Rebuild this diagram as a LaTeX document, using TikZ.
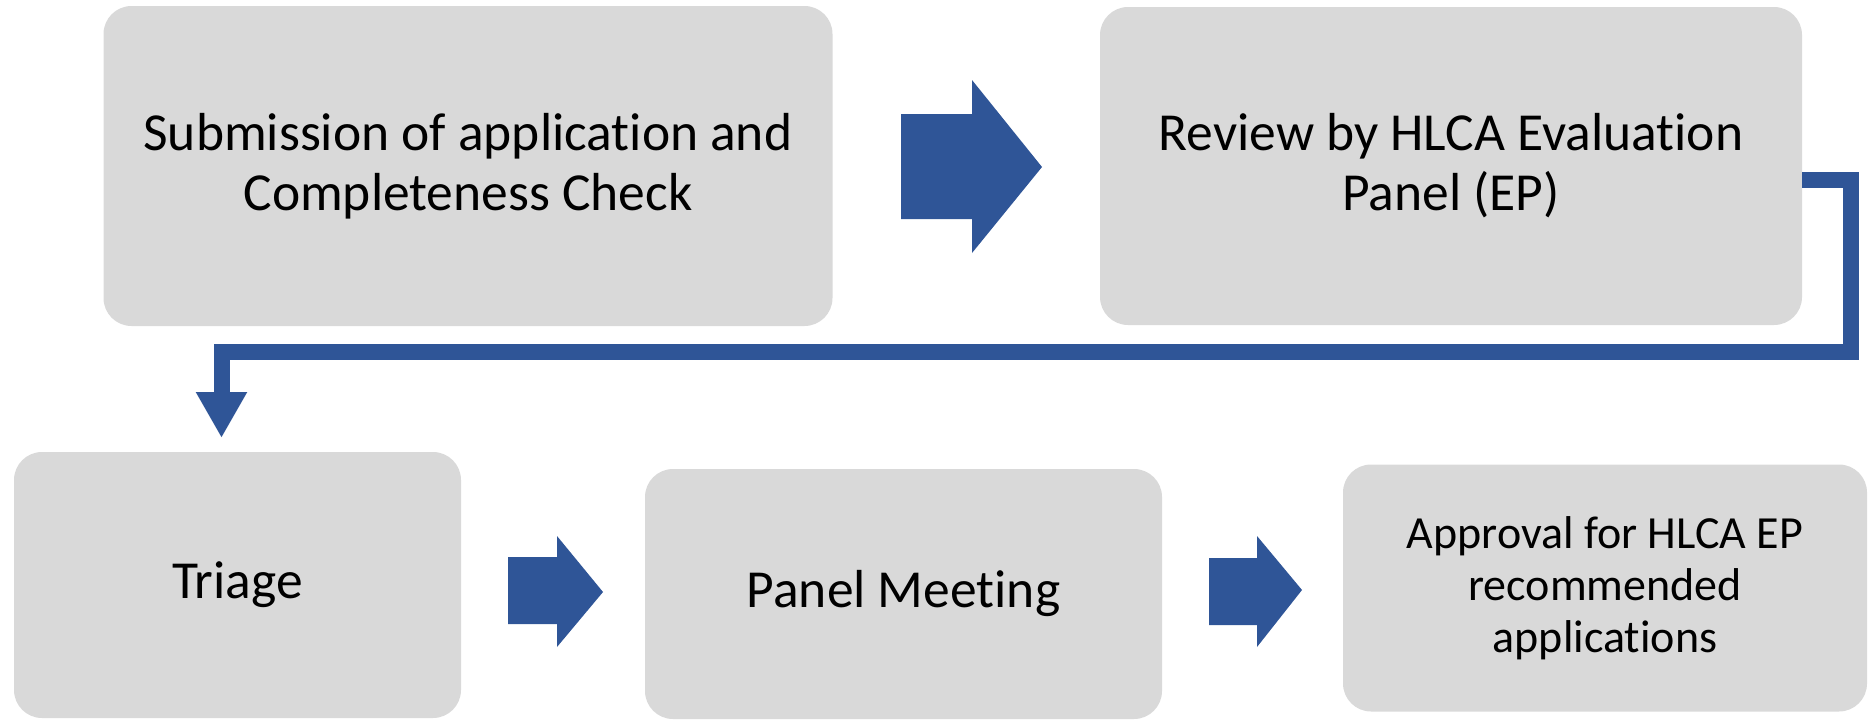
\documentclass[tikz,border=0pt]{standalone}
\usepackage{fontspec}
\setmainfont{Carlito}[Ligatures=NoCommon]
\usetikzlibrary{arrows.meta,calc}
\definecolor{boxgray}{HTML}{D9D9D9}
\definecolor{flowblue}{HTML}{2F5597}
\tikzset{
  stepbox/.style={fill=boxgray, draw=none, rounded corners=28pt, align=center, inner sep=0pt,
    font=\fontsize{53.5}{60}\selectfont},
  blockarrow/.style={fill=flowblue, draw=none},
  elbow/.style={draw=flowblue, line width=16pt, line join=miter, -{Triangle[width=48pt,length=46pt]}}
}
\begin{document}
\begin{tikzpicture}[x=1pt,y=-1pt]
\useasboundingbox (0,0) rectangle (1873,723);
\node[stepbox, minimum width=729pt, minimum height=320pt] (b1) at (468,166) {Submission of application and\\Completeness Check};
\node[stepbox, minimum width=702pt, minimum height=318pt] (b2) at (1451,166) {Review by HLCA Evaluation\\Panel (EP)};
\node[stepbox, minimum width=447pt, minimum height=266pt] (b3) at (237.5,585) {Triage};
\node[stepbox, minimum width=517pt, minimum height=250pt] (b4) at (903.5,594) {Panel Meeting};
\node[stepbox, minimum width=524pt, minimum height=247pt, font=\fontsize{46}{52}\selectfont] (b5) at (1605,588) {Approval for HLCA EP\\recommended\\applications};
% block arrows
\fill[blockarrow] (901,114) -- (972,114) -- (972,80) -- (1042,167) -- (972,253) -- (972,219) -- (901,219) -- cycle;
\fill[blockarrow] (508,557) -- (557,557) -- (557,536) -- (603,592) -- (557,647) -- (557,624) -- (508,624) -- cycle;
\fill[blockarrow] (1209,558) -- (1257,558) -- (1257,536) -- (1302,590) -- (1257,647) -- (1257,625) -- (1209,625) -- cycle;
% elbow connector
\coordinate (e0) at ($(b2.east)+(0,13.5)$);
\coordinate (tip) at (221.5,438);
\draw[elbow] (e0) -- (1851,179.5) -- (1851,352) -- (221.5,352) -- (tip);
\end{tikzpicture}
\end{document}
